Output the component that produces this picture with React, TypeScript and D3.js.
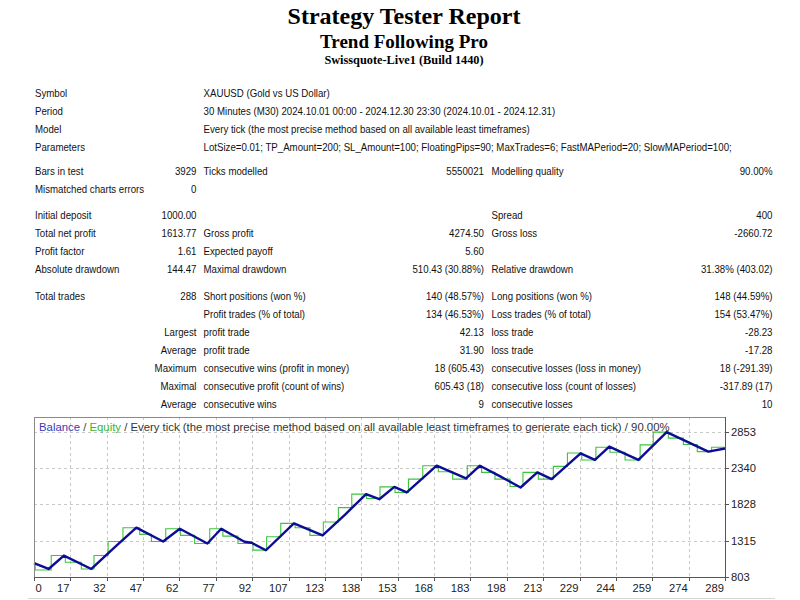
import React from "react";
import * as d3 from "d3";

// ---------- Report header ----------
const titleMain = "Strategy Tester Report";
const titleExpert = "Trend Following Pro";
const titleServer = "Swissquote-Live1 (Build 1440)";

// ---------- Report table (label / value columns) ----------
const tableCol1 = [
  "Symbol", "Period", "Model", "Parameters",
  "Bars in test", "Mismatched charts errors",
  "Initial deposit", "Total net profit", "Profit factor", "Absolute drawdown",
  "Total trades", "", "", "", "", "", "",
];
const tableCol2 = [
  "", "", "", "",
  "3929", "0",
  "1000.00", "1613.77", "1.61", "144.47",
  "288", "", "Largest", "Average", "Maximum", "Maximal", "Average",
];
const tableCol3 = [
  "XAUUSD (Gold vs US Dollar)",
  "30 Minutes (M30) 2024.10.01 00:00 - 2024.12.30 23:30 (2024.10.01 - 2024.12.31)",
  "Every tick (the most precise method based on all available least timeframes)",
  "LotSize=0.01; TP_Amount=200; SL_Amount=100; FloatingPips=90; MaxTrades=6; FastMAPeriod=20; SlowMAPeriod=100;",
  "Ticks modelled", "",
  "", "Gross profit", "Expected payoff", "Maximal drawdown",
  "Short positions (won %)", "Profit trades (% of total)", "profit trade", "profit trade",
  "consecutive wins (profit in money)", "consecutive profit (count of wins)", "consecutive wins",
];
const tableCol4 = [
  "", "", "", "",
  "5550021", "",
  "", "4274.50", "5.60", "510.43 (30.88%)",
  "140 (48.57%)", "134 (46.53%)", "42.13", "31.90", "18 (605.43)", "605.43 (18)", "9",
];
const tableCol5 = [
  "", "", "", "",
  "Modelling quality", "",
  "Spread", "Gross loss", "", "Relative drawdown",
  "Long positions (won %)", "Loss trades (% of total)", "loss trade", "loss trade",
  "consecutive losses (loss in money)", "consecutive loss (count of losses)", "consecutive losses",
];
const tableCol6 = [
  "", "", "", "",
  "90.00%", "",
  "400", "-2660.72", "", "31.38% (403.02)",
  "148 (44.59%)", "154 (53.47%)", "-28.23", "-17.28", "18 (-291.39)", "-317.89 (17)", "10",
];
// vertical row centres
const rowCentres = [93, 111, 129, 147, 171, 189, 215, 233, 251, 269, 296, 314, 332, 350, 368, 386, 404];

// ---------- Graph ----------
const xTickLabels = ["0", "17", "32", "47", "62", "77", "92", "107", "123", "138", "153", "168", "183", "198", "213", "229", "244", "259", "274", "289"];
const yTickValues = [803, 1315, 1828, 2340, 2853];

// balance: trade index / balance value (read at the turning points)
const balanceIdx = [0, 6.1, 12.5, 24, 33, 42.8, 54, 61, 72.5, 78.3, 88, 91, 97, 108.7, 120.7, 130, 138.9, 144.4, 150.7, 155.9, 168.4, 180.7, 186.5, 195, 203.5, 210.5, 216.5, 228.6, 234.6, 240.6, 252.8, 264.6, 282, 289];
const balanceVal = [1000, 916, 1105, 916, 1200, 1498, 1303, 1483, 1275, 1483, 1300, 1285, 1180, 1559, 1388, 1680, 1970, 1899, 2073, 1994, 2371, 2192, 2371, 2220, 2064, 2277, 2182, 2546, 2452, 2641, 2452, 2844, 2570, 2614];

// equity: step start index / equity level
const equityIdx = [0, 0.5, 7.2, 13.1, 19.8, 25.1, 31.0, 37.2, 44.2, 49.1, 55.1, 61.3, 67.2, 73.5, 79.0, 85.3, 91.6, 97.3, 103.2, 109.2, 115.4, 121.0, 127.3, 132.9, 139.1, 144.7, 151.0, 156.6, 162.6, 169.1, 175.1, 181.2, 187.2, 192.8, 199.1, 204.5, 210.9, 217.2, 223.1, 229.1, 235.0, 240.9, 247.2, 253.5, 259.0, 265.3, 271.6, 277.4, 283.4, 289];
const equityVal = [1000, 902, 1105, 1010, 916, 1105, 1303, 1497, 1403, 1303, 1483, 1389, 1275, 1483, 1379, 1275, 1181, 1370, 1559, 1497, 1389, 1578, 1781, 1970, 1908, 2073, 1993, 2182, 2371, 2286, 2182, 2371, 2277, 2182, 2078, 2277, 2182, 2362, 2551, 2452, 2631, 2560, 2452, 2664, 2844, 2759, 2669, 2570, 2631, 2631];

const graphTitleParts = [
  { text: "Balance", color: "#3a3ab8" },
  { text: " / ", color: "#444" },
  { text: "Equity", color: "#33b833" },
  { text: " / Every tick (the most precise method based on all available least timeframes to generate each tick) / 90.00%", color: "#333" },
];

const W = 800;
const H = 600;
const TABLE_FONT = "'Liberation Sans', Arial, sans-serif";
const SX = 0.94;

function Cell({ x, y, anchor, text }: { x: number; y: number; anchor?: string; text: string }) {
  if (!text) return null;
  return (
    <text transform={`translate(${x},${y}) scale(${SX},1)`} textAnchor={anchor || "start"}>
      {text}
    </text>
  );
}

export default function App() {
  const left = 34, right = 725, top = 417, bottom = 577;
  const x = d3.scaleLinear().domain([0, 289]).range([left, right]);
  const y = d3.scaleLinear().domain([803, 2853]).range([bottom, 431.5]);
  const xt = d3.scalePoint<string>().domain(xTickLabels).range([left, right]);

  const balancePts: [number, number][] = balanceIdx.map((d, i) => [d, balanceVal[i]]);
  const equityPts: [number, number][] = equityIdx.map((d, i) => [d, equityVal[i]]);
  const lineB = d3.line<[number, number]>().x((d) => x(d[0])).y((d) => y(d[1]));
  const lineE = d3.line<[number, number]>().x((d) => x(d[0])).y((d) => y(d[1])).curve(d3.curveStepAfter);

  const fs = 10.3;
  const dy = 3.7;
  return (
    <svg width={W} height={H} style={{ position: "absolute", left: 0, top: 0, background: "#fff" }}>
      {/* header */}
      <g fontFamily="'Liberation Serif', 'Times New Roman', serif" fontWeight="bold" fill="#000" textAnchor="middle">
        <text x={404} y={24} fontSize={24}>{titleMain}</text>
        <text x={404} y={48} fontSize={19}>{titleExpert}</text>
        <text x={404} y={64} fontSize={12.3}>{titleServer}</text>
      </g>

      {/* table */}
      <g fontFamily={TABLE_FONT} fontSize={fs} fill="#111">
        {rowCentres.map((cy, i) => (
          <g key={i}>
            <Cell x={35} y={cy + dy} text={tableCol1[i]} />
            <Cell x={196.5} y={cy + dy} anchor="end" text={tableCol2[i]} />
            <Cell x={203.5} y={cy + dy} text={tableCol3[i]} />
            <Cell x={484} y={cy + dy} anchor="end" text={tableCol4[i]} />
            <Cell x={491.5} y={cy + dy} text={tableCol5[i]} />
            <Cell x={772.5} y={cy + dy} anchor="end" text={tableCol6[i]} />
          </g>
        ))}
      </g>

      {/* graph grid */}
      <g stroke="#c8c8c8" strokeWidth={1} strokeDasharray="3,3">
        {xTickLabels.slice(1, -1).map((t) => (
          <line key={t} x1={Math.round(xt(t)!) + 0.5} x2={Math.round(xt(t)!) + 0.5} y1={top} y2={bottom} />
        ))}
        {yTickValues.slice(1).map((v) => (
          <line key={v} x1={left} x2={right} y1={Math.round(y(v)) + 0.5} y2={Math.round(y(v)) + 0.5} />
        ))}
      </g>

      {/* lines */}
      <path d={lineE(equityPts)!} fill="none" stroke="#3cc43c" strokeWidth={1.1} />
      <path d={lineB(balancePts)!} fill="none" stroke="#0c0c96" strokeWidth={2.4} strokeLinejoin="round" />

      {/* frame */}
      <rect x={left + 0.5} y={top + 0.5} width={right - left} height={bottom - top} fill="none" stroke="#8a8a8a" />
      <line x1={right + 0.5} x2={right + 0.5} y1={top} y2={bottom + 1} stroke="#555" />
      <line x1={left} x2={right + 1} y1={bottom + 0.5} y2={bottom + 0.5} stroke="#555" />
      {/* ticks */}
      <g stroke="#555">
        {xTickLabels.map((t) => (
          <line key={t} x1={Math.round(xt(t)!) + 0.5} x2={Math.round(xt(t)!) + 0.5} y1={bottom} y2={bottom + 4} />
        ))}
        {yTickValues.map((v) => (
          <line key={v} x1={right} x2={right + 4} y1={Math.round(y(v)) + 0.5} y2={Math.round(y(v)) + 0.5} />
        ))}
      </g>

      {/* graph title */}
      <text x={39} y={431} fontFamily={TABLE_FONT} fontSize={11.35}>
        {graphTitleParts.map((p, i) => (
          <tspan key={i} fill={p.color}>{p.text}</tspan>
        ))}
      </text>

      {/* axis labels */}
      <g fontFamily={TABLE_FONT} fontSize={11.2} fill="#222">
        {xTickLabels.map((t, i) => (
          <text key={t} x={i === 0 ? 35.5 : xt(t)! - 1} y={592} textAnchor={i === 0 ? "start" : "end"}>{t}</text>
        ))}
        {yTickValues.map((v) => (
          <text key={v} x={731} y={y(v) + 4}>{v}</text>
        ))}
      </g>

      {/* start of next table */}
      <line x1={28} x2={775} y1={598.5} y2={598.5} stroke="#d4d4d4" />
    </svg>
  );
}
